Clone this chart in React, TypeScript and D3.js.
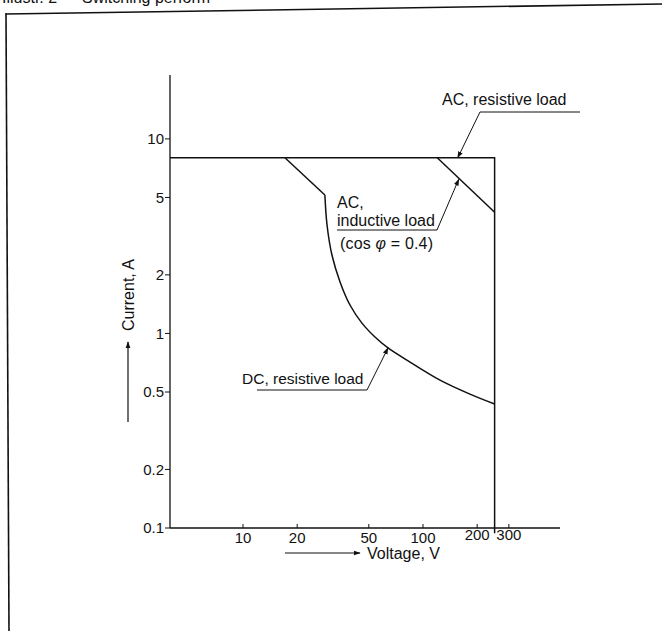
import React from "react";
import * as d3 from "d3";

// ---- data ----
const yTickValues = [0.1, 0.2, 0.5, 1, 2, 5, 10];
const yTickLabels = ["0.1", "0.2", "0.5", "1", "2", "5", "10"];
const xTickValues = [10, 20, 50, 100, 200, 300];
const xTickLabels = ["10", "20", "50", "100", "200", "300"];

// AC, resistive load envelope (V, A)
const acResVolts = [3.93, 250, 250];
const acResAmps = [8, 8, 0.094];

// AC, inductive load (cos φ = 0.4)
const acIndVolts = [120, 250];
const acIndAmps = [8, 4.2];

// DC, resistive load: straight part then curve
const dcLineVolts = [17.1, 28.5];
const dcLineAmps = [8, 5.15];
const dcCurveVolts = [28.5, 29.3, 31.2, 34.6, 39.3, 45.8, 54.1, 63.9, 84.7, 124.3, 182.4, 250];
const dcCurveAmps = [5.15, 3.61, 2.53, 1.84, 1.4, 1.13, 0.959, 0.842, 0.713, 0.576, 0.488, 0.434];

// arrow tips of annotations (V, A)
const tipAcRes = [156, 8];
const tipAcInd = [158, 6.2];
const tipDc = [63.9, 0.842];

const FONT = "'Liberation Sans', Arial, Helvetica, sans-serif";
const INK = "#111";

export default function App() {
  const x = d3.scaleLog().domain([3.93, 577]).range([170, 560]);
  const y = d3.scaleLog().domain([0.1, 21.3]).range([528, 75]);

  const line = d3
    .line<[number, number]>()
    .x((d) => x(d[0]))
    .y((d) => y(d[1]));
  const curve = d3
    .line<[number, number]>()
    .x((d) => x(d[0]))
    .y((d) => y(d[1]))
    .curve(d3.curveCatmullRom.alpha(0.5));

  const zip = (a: number[], b: number[]) => a.map((v, i) => [v, b[i]] as [number, number]);

  const tp = (t: number[]) => [x(t[0]), y(t[1])];
  const [arX, arY] = tp(tipAcRes);
  const [aiX, aiY] = tp(tipAcInd);
  const [dcX, dcY] = tp(tipDc);

  return (
    <svg
      width={662}
      height={631}
      style={{ position: "absolute", left: 0, top: 0, background: "#fff" }}
      fontFamily={FONT}
    >
      <defs>
        <marker id="ah" viewBox="0 0 10 10" refX="9" refY="5" markerWidth="7" markerHeight="7" orient="auto" markerUnits="userSpaceOnUse">
          <path d="M0,1.5 L10,5 L0,8.5 Z" fill={INK} />
        </marker>
        <clipPath id="capclip">
          <rect x={0} y={0} width={210} height={8} />
        </clipPath>
      </defs>

      {/* cropped caption at top */}
      <g clipPath="url(#capclip)">
        <text x={2} y={3} fontSize={16} fill={INK}>Illustr. 2 — Switching performance</text>
      </g>

      {/* page frame */}
      <line x1={6} y1={14} x2={662} y2={4} stroke={INK} strokeWidth={1.6} />
      <line x1={6} y1={13} x2={9} y2={631} stroke={INK} strokeWidth={1.6} />

      {/* axes */}
      <line x1={170} y1={y.range()[1]} x2={170} y2={528} stroke={INK} strokeWidth={1.3} />
      <line x1={170} y1={528} x2={560} y2={528} stroke={INK} strokeWidth={1.3} />

      {yTickValues.map((v, i) => (
        <g key={"y" + i}>
          <line x1={165} x2={170} y1={y(v)} y2={y(v)} stroke={INK} strokeWidth={1} />
          <text x={164} y={y(v)} dy="0.35em" textAnchor="end" fontSize={15} fill={INK}>
            {yTickLabels[i]}
          </text>
        </g>
      ))}

      {xTickValues.map((v, i) => (
        <g key={"x" + i}>
          <line x1={x(v)} x2={x(v)} y1={528} y2={524} stroke={INK} strokeWidth={1} />
          <text x={x(v)} y={i >= 4 ? 540 : 543} textAnchor="middle" fontSize={15} fill={INK}>
            {xTickLabels[i]}
          </text>
        </g>
      ))}

      {/* axis titles with arrows */}
      <line x1={285} y1={553} x2={360} y2={553} stroke={INK} strokeWidth={1.2} markerEnd="url(#ah)" />
      <text x={367} y={559} fontSize={16} fill={INK}>Voltage, V</text>

      <line x1={128} y1={422} x2={128} y2={342} stroke={INK} strokeWidth={1.2} markerEnd="url(#ah)" />
      <text transform="translate(134,295) rotate(-90)" textAnchor="middle" fontSize={16} fill={INK}>
        Current, A
      </text>

      {/* curves */}
      <path d={line(zip(acResVolts, acResAmps)) || ""} fill="none" stroke={INK} strokeWidth={1.5} />
      <path d={line(zip(acIndVolts, acIndAmps)) || ""} fill="none" stroke={INK} strokeWidth={1.5} />
      <path d={line(zip(dcLineVolts, dcLineAmps)) || ""} fill="none" stroke={INK} strokeWidth={1.5} />
      <path d={curve(zip(dcCurveVolts, dcCurveAmps)) || ""} fill="none" stroke={INK} strokeWidth={1.5} />

      {/* annotation: AC, resistive load */}
      <text x={442} y={105} fontSize={16} fill={INK}>AC, resistive load</text>
      <polyline points={`580,112 480,112 ${arX},${arY}`} fill="none" stroke={INK} strokeWidth={1} markerEnd="url(#ah)" />

      {/* annotation: AC, inductive load */}
      <text x={337} y={208} fontSize={16} fill={INK}>AC,</text>
      <text x={337} y={226} fontSize={16} fill={INK}>inductive load</text>
      <text x={340} y={249} fontSize={16} fill={INK} textLength={93} lengthAdjust="spacing">
        (cos <tspan fontStyle="italic">φ</tspan> = 0.4)
      </text>
      <polyline points={`337,230 437,230 ${aiX},${aiY}`} fill="none" stroke={INK} strokeWidth={1} markerEnd="url(#ah)" />

      {/* annotation: DC, resistive load */}
      <text x={242} y={384} fontSize={15.5} fill={INK}>DC, resistive load</text>
      <polyline points={`257,390 367,390 ${dcX},${dcY}`} fill="none" stroke={INK} strokeWidth={1} markerEnd="url(#ah)" />
    </svg>
  );
}
